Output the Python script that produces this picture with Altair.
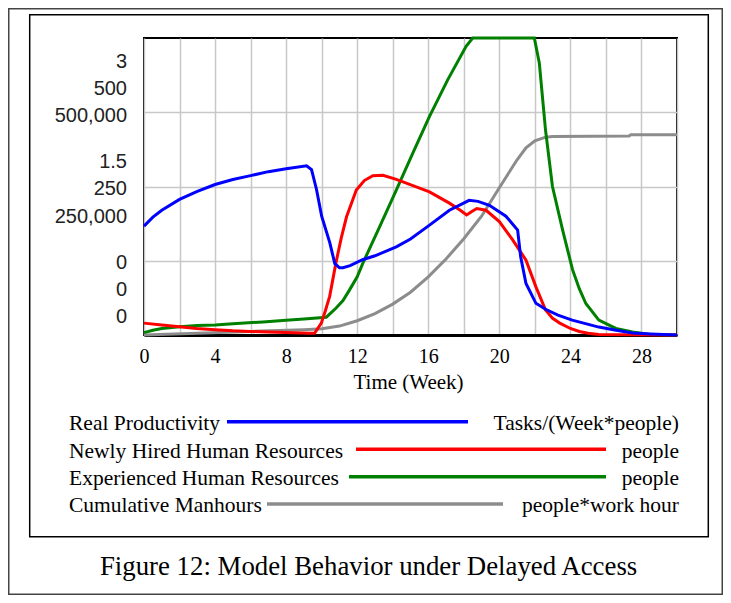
import altair as alt
import pandas as pd

# ---------------- data ----------------
prod_t = [0, 0.5, 1, 2, 3, 4, 5, 6, 7, 8, 9.15, 9.43, 9.71, 10.0, 10.46, 10.74, 11.0, 11.2, 11.6,
          12.3, 13.0, 14.2, 15.0, 16.07, 17.19, 18.3, 18.8, 19.44, 20.37, 21.03, 21.2, 21.5, 22.06,
          22.6, 23.3, 24.1, 25.6, 26.5, 27.5, 28.5, 30]
prod_v = [1.10, 1.19, 1.26, 1.37, 1.45, 1.52, 1.57, 1.61, 1.65, 1.68, 1.71, 1.67, 1.47, 1.20, 0.93,
          0.72, 0.68, 0.68, 0.70, 0.76, 0.80, 0.89, 0.97, 1.11, 1.26, 1.36, 1.35, 1.31, 1.20, 1.06,
          0.79, 0.52, 0.32, 0.26, 0.20, 0.15, 0.08, 0.05, 0.02, 0.01, 0.0]

new_t = [0, 1, 2, 2.96, 4, 5, 5.96, 7, 8, 9.3, 9.6, 9.98, 10.2, 10.45, 10.8, 11.1, 11.4, 11.95,
         12.4, 12.88, 13.45, 14.2, 15.1, 16.07, 17.19, 17.8, 18.16, 18.45, 18.73, 19.25, 20.0,
         20.75, 21.5, 22.06, 22.6, 23.0, 23.4, 24.0, 24.5, 25.0, 25.6, 30]
new_v = [20, 17, 14, 11, 9, 7, 6, 5, 4, 3, 3, 20, 40, 65, 121, 163, 199, 244, 260, 268, 269, 262,
         252, 241, 222, 210, 202, 208, 213, 210, 191, 160, 126, 81, 42, 28, 20, 11, 6, 3, 1, 0]

exp_t = [0, 0.5, 1, 2, 3, 4, 5, 6.7, 8, 9, 10.26, 10.8, 11.2, 11.57, 12.0, 12.32, 13.26, 14.2,
         15.13, 16.07, 17.1, 18.13, 18.5, 21.97, 22.25, 22.6, 22.99, 23.56, 24.12, 24.5, 24.87,
         25.6, 26.56, 27.5, 28.5, 30]
exp_v = [4, 8, 11, 14, 16, 17, 19, 22, 25, 27, 30, 45, 58, 76, 98, 121, 182, 244, 306, 368, 430,
         486, 500, 500, 458, 345, 250, 177, 110, 78, 53, 25, 11, 5, 1, 0]

man_t = [0, 3, 6, 9, 10, 11, 12, 13, 14, 15, 16, 17, 18, 19, 20, 21, 21.5, 22, 22.6, 23, 27.3,
         27.4, 30]
man_v = [0, 3000, 6000, 9000, 10500, 15000, 24000, 36000, 52000, 72000, 98000, 128000, 162000,
         200000, 248000, 295000, 315000, 327000, 333000, 334000, 335000, 337000, 337000]

series_names = ["Real Productivity", "Newly Hired Human Resources",
                "Experienced Human Resources", "Cumulative Manhours"]
series_units = ["Tasks/(Week*people)", "people", "people", "people*work hour"]
series_colors = ["#0000ff", "#ff0000", "#008000", "#8c8c8c"]
scale_max = [3, 500, 500, 500000]
y_label_rows = ["3", "500", "500,000", "1.5", "250", "250,000", "0", "0", "0"]
x_ticks = list(range(0, 31, 2))
x_title = "Time (Week)"
caption = "Figure 12: Model Behavior under Delayed Access"

# ---------------- layout ----------------
W, H = 533, 297
PAD_L, PAD_T = 136, 30
TOTAL_W, TOTAL_H = 715, 587
SERIF = "Liberation Serif"

x_axis = alt.Axis(values=x_ticks, grid=True, gridColor="#c8c8c8", gridWidth=1.5,
                  ticks=False, domain=True, domainColor="black", domainWidth=3,
                  labelExpr="datum.value % 4 == 0 ? datum.label : ''",
                  labelFont=SERIF, labelFontSize=20, labelColor="black", labelPadding=11,
                  labelFlush=False, labelOverlap=False,
                  title=x_title, titleFont=SERIF, titleFontSize=21, titleFontWeight="normal",
                  titleColor="black", titleX=264, titleY=47, titleBaseline="middle",
                  titleAlign="center")

series_data = [(prod_t, prod_v), (new_t, new_v), (exp_t, exp_v), (man_t, man_v)]

line_layers = []
for idx in [3, 2, 1, 0]:
    t, v = series_data[idx]
    df = pd.DataFrame({"t": t, "v": v})
    ymax = scale_max[idx]
    if idx == 3:
        y_axis = alt.Axis(values=[ymax * 0.25, ymax * 0.5, ymax * 0.75], grid=True,
                          gridColor="#c8c8c8", gridWidth=1.5, labels=False, ticks=False,
                          domain=False, title=None)
    else:
        y_axis = None
    line_layers.append(
        alt.Chart(df).mark_line(color=series_colors[idx], strokeWidth=3).encode(
            x=alt.X("t:Q", scale=alt.Scale(domain=[0, 30], nice=False), axis=x_axis),
            y=alt.Y("v:Q", scale=alt.Scale(domain=[0, ymax], nice=False, zero=True),
                    axis=y_axis),
        )
    )

# stacked Vensim-style y labels
ylab_y = [24.3, 51, 77.7, 124.3, 151, 178.7, 225.3, 252, 279.3]
label_layers = []
for lab, yy in zip(y_label_rows, ylab_y):
    label_layers.append(
        alt.Chart(pd.DataFrame({"s": [lab]})).mark_text(
            align="right", baseline="middle", font="Liberation Sans", fontSize=20,
            color="#222222").encode(x=alt.value(-17), y=alt.value(yy), text="s:N")
    )

# legend rows
leg_text_y = [385.5, 413.5, 441, 468]
leg_line_y = [383.7, 411.3, 438.7, 466]
leg_line_x = [(83, 324), (212, 462), (205, 462), (123, 359)]
legend_layers = []
for i in range(4):
    legend_layers.append(
        alt.Chart(pd.DataFrame({"s": [series_names[i]]})).mark_text(
            align="left", baseline="middle", font=SERIF, fontSize=21.5, color="black"
        ).encode(x=alt.value(-75), y=alt.value(leg_text_y[i]), text="s:N")
    )
    legend_layers.append(
        alt.Chart(pd.DataFrame({"s": [series_units[i]]})).mark_text(
            align="right", baseline="middle", font=SERIF, fontSize=21.5, color="black"
        ).encode(x=alt.value(535), y=alt.value(leg_text_y[i]), text="s:N")
    )
    legend_layers.append(
        alt.Chart(pd.DataFrame({"s": [series_names[i]]})).mark_rule(
            color=series_colors[i], strokeWidth=3.5
        ).encode(x=alt.value(leg_line_x[i][0]), x2=alt.value(leg_line_x[i][1]),
                 y=alt.value(leg_line_y[i]))
    )

frame_df = pd.DataFrame({"s": ["frame"]})
inner_box = alt.Chart(frame_df).mark_rect(fillOpacity=0, stroke="black", strokeWidth=1.5).encode(
    x=alt.value(-114.3), x2=alt.value(564.3), y=alt.value(-23.3), y2=alt.value(498.7))
outer_box = alt.Chart(frame_df).mark_rect(fillOpacity=0, stroke="#444444", strokeWidth=1.5).encode(
    x=alt.value(-PAD_L + 0.75), x2=alt.value(TOTAL_W - PAD_L - 0.75),
    y=alt.value(-PAD_T + 0.75), y2=alt.value(TOTAL_H - PAD_T - 0.75))

caption_layer = alt.Chart(pd.DataFrame({"s": [caption]})).mark_text(
    align="center", baseline="middle", font=SERIF, fontSize=26.8, color="black"
).encode(x=alt.value(224.6), y=alt.value(528.7), text="s:N")

chart = alt.layer(
    *line_layers, *label_layers, *legend_layers, inner_box, outer_box, caption_layer
).resolve_scale(y="independent").properties(
    width=W, height=H,
    autosize=alt.AutoSizeParams(type="none"),
    padding={"left": PAD_L, "top": PAD_T, "right": TOTAL_W - PAD_L - W,
             "bottom": TOTAL_H - PAD_T - H},
    background="white",
).configure_view(stroke="black", strokeWidth=2)

chart.save("out.html", embed_options={"renderer": "svg", "actions": False})
